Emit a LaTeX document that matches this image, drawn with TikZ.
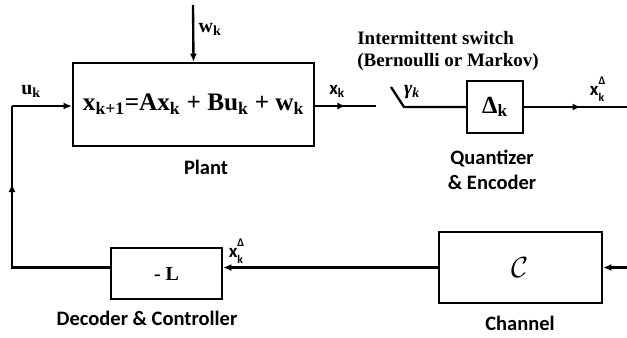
\documentclass[tikz,border=0pt]{standalone}
\usepackage[no-math]{fontspec}
\setsansfont{Carlito}
\newfontfamily\eqserif{Liberation Serif}
\usetikzlibrary{arrows.meta,decorations.markings}

%Bold letter with stacked sub- and superscript
\newcommand{\sgn}[3]{#1\rlap{\raisebox{0.62em}{\fontsize{10}{10}\selectfont #3}}%
  \raisebox{-0.3em}{\fontsize{10}{10}\selectfont #2}}

\begin{document}
\begin{tikzpicture}
  [
    x=0.03cm, y=-0.03cm,
    >={Latex[length=7pt,width=6pt]},
    wire/.style   = {line width=2pt},
    block/.style  = {draw, line width=2pt, inner sep=0pt},
    blockcap/.style = {font=\fontsize{17.5}{21}\selectfont\sffamily\bfseries, align=center},
    siglab/.style = {font=\fontsize{17}{20}\selectfont\eqserif\bfseries},
    sanslab/.style = {font=\fontsize{16}{19}\selectfont\sffamily\bfseries},
    midarrow/.style = {postaction={decorate},
      decoration={markings, mark=at position #1 with {\arrow{>}}}},
  ]

%Size of the picture
\def \W{627}
\def \H{337}
\useasboundingbox (0,0) rectangle (\W,\H);

%Blocks
\node[block, minimum width=7.23cm, minimum height=2.49cm,
  font=\fontsize{21.5}{25}\selectfont\eqserif\bfseries] (plant) at (193.5,104.5)
  {x\textsubscript{k+1}=Ax\textsubscript{k} + Bu\textsubscript{k} + w\textsubscript{k}};
\node[block, minimum width=1.68cm, minimum height=1.56cm,
  font=\fontsize{21}{25}\selectfont\eqserif\bfseries] (quant) at (495,107)
  {Δ\textsubscript{k}};
\node[block, minimum width=4.89cm, minimum height=2.13cm] (chan) at (520.5,267.5)
  {\fontsize{24}{28}\selectfont $\mathcal{C}$};
\node[block, minimum width=3.33cm, minimum height=1.53cm,
  font=\fontsize{17}{20}\selectfont\eqserif\bfseries] (ctrl) at (166.5,273.5)
  {- L};

%Captions
\node[blockcap] (plantcap) at (206,167) {Plant};
\node[blockcap] (quantcap) at (492,170) {Quantizer\\\& Encoder};
\node[blockcap] (chancap) at (520,323) {Channel};
\node[blockcap] (ctrlcap) at (147,318) {Decoder \& Controller};
\node[font=\fontsize{16.2}{19.5}\selectfont\eqserif\bfseries, align=left] (swcap) at (448,51)
  {Intermittent switch\\(Bernoulli or Markov)};

%Switch and free ends
\coordinate (swA) at (376,106);
\coordinate (swB) at (391,87);
\coordinate (swC) at (404,107);
\coordinate (outR) at (\W,107);
\coordinate (inR) at (\W,267.5);
\coordinate (wtop) at (193,5);
\coordinate (lcorner) at (12,106);

%Connectors
\draw[wire, ->] (wtop) -- (plant.north);
\draw[wire, midarrow=0.5] (plant.east |- swA) -- (swA);
\draw[wire] (swB) -- (swC) -- (quant.west |- swC);
\draw[wire, midarrow=0.55] (quant.east) -- (outR);
\draw[wire, ->] (inR) -- (chan.east);
\draw[wire, ->] (chan.west) -- (chan.west -| ctrl.east);
\draw[wire, midarrow=0.7] (ctrl.west |- chan.west) -| (lcorner);
\draw[wire, ->] (lcorner) -- (plant.west |- lcorner);

%Signal labels
\node[siglab] (wlab) at (210,29) {w\textsubscript{k}};
\node[siglab] (ulab) at (31,91) {u\textsubscript{k}};
\node[sanslab] (xlab) at (337,91) {x\textsubscript{k}};
\node[siglab, font=\fontsize{17}{20}\selectfont\eqserif\bfseries\itshape] (glab) at (412,92) {γ\textsubscript{k}};
\node[sanslab] (xqlab) at (597,89) {\sgn{x}{k}{Δ}};
\node[sanslab] (xclab) at (236,251) {\sgn{x}{k}{Δ}};

\end{tikzpicture}
\end{document}
